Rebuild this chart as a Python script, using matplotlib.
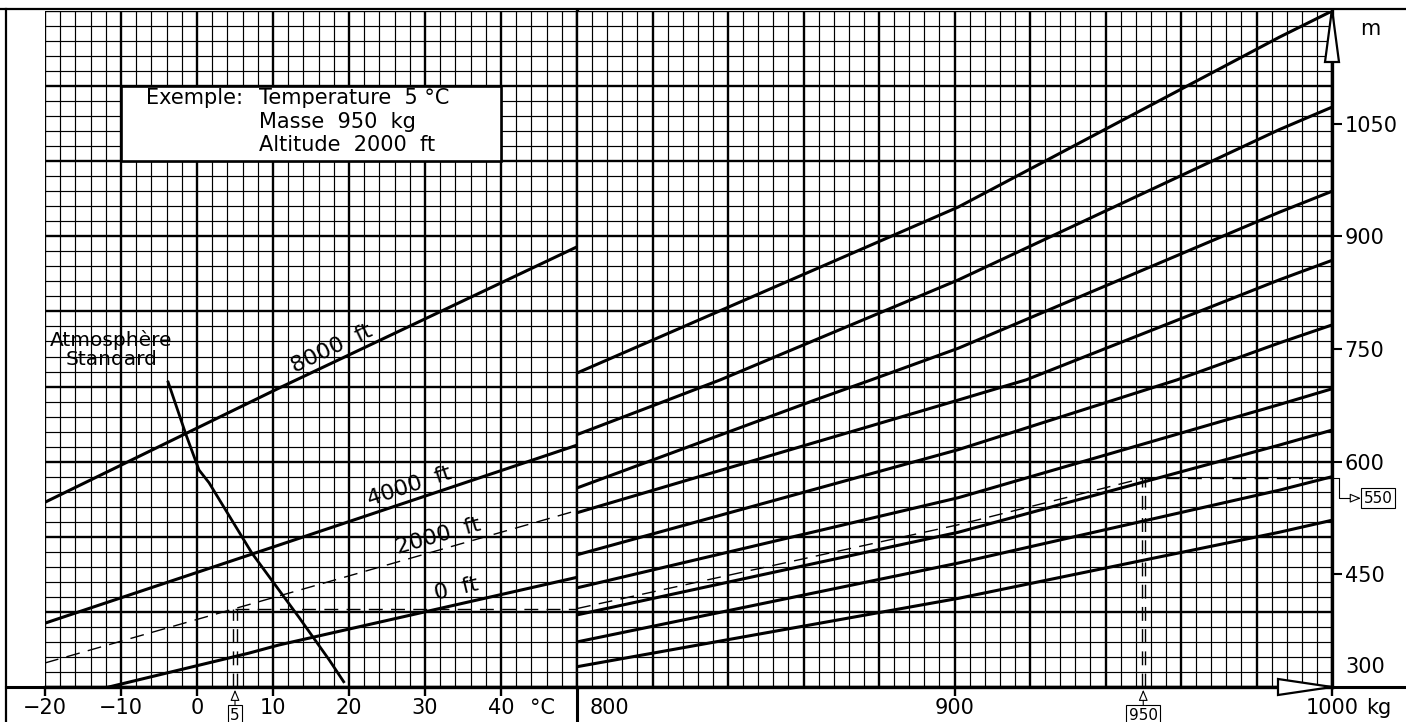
import numpy as np
import matplotlib
matplotlib.use('Agg')
import matplotlib.pyplot as plt
from matplotlib.lines import Line2D
from matplotlib.patches import Polygon, Rectangle

plt.rcParams['font.family'] = ['DejaVu Sans']

# ---- valeurs lues sur l'abaque ----
# panneau gauche : temperature (°C) -> distance (m) pour chaque altitude
t_0ft = [-11.6, 6.8, 10.8, 50]
m_0ft = [300, 345, 356, 446]
t_2000ft = [-20, 12.1, 50]
m_2000ft = [332, 425, 535]
t_4000ft = [-20, 10.8, 50]
m_4000ft = [385, 489, 622]
t_8000ft = [-20, 10.8, 50]
m_8000ft = [546, 698, 886]

# courbe atmosphere standard
t_isa = [-3.8, -1.45, 0.26, 1.58, 7.24, 13.4, 17.4, 19.3]
m_isa = [706, 636, 589, 572, 478, 393, 336, 307]

# panneau droit : lignes guides masse (kg) -> distance (m)
guide_mass = [
    [800, 901, 986, 1000],
    [800, 824, 838, 901, 986, 1000],
    [800, 863, 878, 901, 986, 1000],
    [800, 901, 919, 986, 1000],
    [800, 901, 959, 986, 1000],
    [800, 901, 986, 1000],
    [800, 901, 986, 1000],
    [800, 901, 986, 1000],
    [800, 901, 986, 1000],
]
guide_dist = [
    [718, 939, 1165, 1200],
    [636, 682, 709, 842, 1042, 1072],
    [565, 682, 709, 751, 932, 960],
    [532, 682, 709, 842, 868],
    [476, 616, 709, 758, 782],
    [432, 552, 676, 697],
    [396, 506, 622, 642],
    [360, 465, 562, 580],
    [327, 418, 506, 522],
]

# exemple
ex_temp = 5
ex_mass = 950
ex_path_mass = [800, 901, 950]
ex_path_dist = [404, 516, 578]
ex_result = '550'

temp_ticks = [-20, -10, 0, 10, 20, 30, 40]
temp_labels = ['\u221220', '\u221210', '0', '10', '20', '30', '40']
mass_ticks = [900, 1000]
dist_ticks = [450, 600, 750, 900, 1050]

W, H = 1406, 722
fig = plt.figure(figsize=(W / 100, H / 100), dpi=100)


def fx(p):
    return p / W


def fy(p):
    return 1 - p / H


x0, x1, x2 = 45, 577, 1332
ytop, ybot = 11, 687
axL = fig.add_axes([fx(x0), fy(ybot), (x1 - x0) / W, (ybot - ytop) / H])
axR = fig.add_axes([fx(x1), fy(ybot), (x2 - x1) / W, (ybot - ytop) / H])
axL.set_xlim(-20, 50)
axR.set_xlim(800, 1000)
for ax in (axL, axR):
    ax.set_ylim(300, 1200)


# papier millimetre
def graph_paper(ax, xmin, xmax, xstep):
    for i, x in enumerate(np.arange(xmin, xmax + xstep / 2, xstep)):
        ax.axvline(x, color='k', lw=1.7 if i % 5 == 0 else 0.85, zorder=1)
    for j, y in enumerate(np.arange(300, 1201, 20)):
        ax.axhline(y, color='k', lw=1.7 if j % 5 == 0 else 0.85, zorder=1)


graph_paper(axL, -20, 50, 2)
graph_paper(axR, 800, 1000, 4)

for ax in (axL, axR):
    for s in ('top', 'left'):
        ax.spines[s].set_visible(False)
    for s in ('bottom', 'right'):
        ax.spines[s].set_linewidth(2.4)

# axes / graduations
FS = 15
axL.set_xticks(temp_ticks + [45.4], labels=temp_labels + ['\u00b0C'])
axL.xaxis.get_major_ticks()[-1].tick1line.set_visible(False)
axL.set_yticks([])
axR.set_xticks(mass_ticks, labels=[str(v) for v in mass_ticks])
axR.yaxis.tick_right()
axR.set_yticks(dist_ticks, labels=[str(v) for v in dist_ticks])
for ax in (axL, axR):
    ax.tick_params(axis='x', direction='out', length=6.5, width=1.7,
                   labelsize=FS, pad=1.5)
axR.tick_params(axis='y', direction='out', length=7, width=1.5,
                labelsize=FS, pad=2)

axR.annotate('800', xy=(800, 0), xycoords=axR.get_xaxis_transform(),
             xytext=(9, -8), textcoords='offset points',
             ha='left', va='top', fontsize=FS)
axR.annotate('kg', xy=(1012.5, 0), xycoords=axR.get_xaxis_transform(),
             xytext=(0, -8), textcoords='offset points',
             ha='center', va='top', fontsize=FS, annotation_clip=False)
axR.annotate('300', xy=(1, 300), xycoords=axR.get_yaxis_transform(),
             xytext=(13, 20), textcoords='offset pixels',
             ha='left', va='center', fontsize=FS, annotation_clip=False)
axR.annotate('m', xy=(1, 1), xycoords='axes fraction',
             xytext=(38, -18), textcoords='offset pixels',
             ha='center', va='center', fontsize=FS)

# cadre et fleches
lk = dict(transform=fig.transFigure, color='k')
fig.add_artist(Line2D([fx(6), fx(6)], [fy(9), 0], lw=1.6, **lk))
fig.add_artist(Line2D([0, 1], [fy(9), fy(9)], lw=1.6, **lk))
fig.add_artist(Line2D([fx(6), 1], [fy(687), fy(687)], lw=2.2, **lk))
fig.add_artist(Line2D([fx(577), fx(577)], [fy(687), 0], lw=2.2, **lk))
fig.add_artist(Polygon([[fx(1325), fy(62)], [fx(1339), fy(62)], [fx(1332), fy(9)]],
                       closed=True, fc='white', ec='k', lw=1.6,
                       transform=fig.transFigure, zorder=5))
fig.add_artist(Polygon([[fx(1278), fy(679)], [fx(1278), fy(695)], [fx(1332), fy(687)]],
                       closed=True, fc='white', ec='k', lw=1.6,
                       transform=fig.transFigure, zorder=5))

# courbes d'altitude
for t, m in ((t_0ft, m_0ft), (t_4000ft, m_4000ft), (t_8000ft, m_8000ft)):
    axL.plot(t, m, color='k', lw=2.2, zorder=3)
axL.plot(t_2000ft, m_2000ft, color='k', lw=1.0, ls=(0, (10, 6)), zorder=3)
axL.plot(t_isa, m_isa, color='k', lw=2.0, zorder=3)

lbl = dict(fontsize=16, ha='center', va='center', rotation_mode='anchor', zorder=4)
axL.text(17.8, 750, '8000  ft', rotation=25.6, **lbl)
axL.text(27.9, 567, '4000  ft', rotation=18.5, **lbl)
axL.text(31.8, 501, '2000  ft', rotation=16, **lbl)
axL.text(34.1, 430, '0  ft', rotation=13.2, **lbl)
axL.text(-11.3, 749, 'Atmosph\u00e8re\nStandard', fontsize=14.5, ha='center',
         va='center', linespacing=1.0, zorder=4)

# lignes guides masse
for mm, dd in zip(guide_mass, guide_dist):
    axR.plot(mm, dd, color='k', lw=2.2, zorder=3)

# cartouche exemple
axL.add_patch(Rectangle((-10, 1000), 50, 100, fc='white', ec='k', lw=1.9, zorder=4))
bx = dict(fontsize=15, ha='left', va='center', zorder=5)
axL.text(-6.7, 1084, 'Exemple:', **bx)
axL.text(8.2, 1084, 'Temperature  5 \u00b0C', **bx)
axL.text(8.2, 1052, 'Masse  950  kg', **bx)
axL.text(8.2, 1021, 'Altitude  2000  ft', **bx)

# trace de l'exemple
dash = dict(color='k', lw=1.0, ls=(0, (10, 6)), zorder=3)
ex_dist = np.interp(ex_temp, t_2000ft, m_2000ft)
axL.plot([ex_temp - 0.2] * 2, [300, ex_dist], **dash)
axL.plot([ex_temp + 0.2] * 2, [300, ex_dist], **dash)
axL.plot([ex_temp, 50], [ex_dist, ex_dist], **dash)
axR.plot(ex_path_mass, [ex_dist] + ex_path_dist[1:], **dash)
axR.plot([ex_mass, 1000], [ex_path_dist[-1]] * 2, **dash)
axR.plot([ex_mass - 0.4] * 2, [300, ex_path_dist[-1]], **dash)
axR.plot([ex_mass + 0.4] * 2, [300, ex_path_dist[-1]], **dash)

box = dict(boxstyle='square,pad=0.15', fc='white', ec='k', lw=0.8)
arrow_up = dict(arrowstyle='-|>,head_length=0.6,head_width=0.25', fc='white',
                ec='k', lw=0.8, shrinkA=0, shrinkB=2)
axL.annotate(str(ex_temp), xy=(ex_temp, 300), xytext=(0, -28),
             textcoords='offset pixels', ha='center', va='center', fontsize=11,
             bbox=box, arrowprops=arrow_up, annotation_clip=False)
axR.annotate(str(ex_mass), xy=(ex_mass, 300), xytext=(0, -28),
             textcoords='offset pixels', ha='center', va='center', fontsize=11,
             bbox=box, arrowprops=arrow_up, annotation_clip=False)

# renvoi vers le resultat
axR.plot([1.0, 1.0 + 7 / 755], [ex_path_dist[-1]] * 2, color='k', lw=0.8,
         transform=axR.get_yaxis_transform(), clip_on=False)
axR.annotate(ex_result, xy=(1.0 + 7 / 755, ex_path_dist[-1]),
             xycoords=axR.get_yaxis_transform(), xytext=(39, -20),
             textcoords='offset pixels', ha='center', va='center', fontsize=11,
             bbox=box, annotation_clip=False,
             arrowprops=dict(arrowstyle='<|-,head_length=0.6,head_width=0.25',
                             fc='white', ec='k', lw=0.8, shrinkA=0, shrinkB=0,
                             connectionstyle='angle,angleA=0,angleB=90,rad=0'))

fig.savefig('out.png', dpi=100)
